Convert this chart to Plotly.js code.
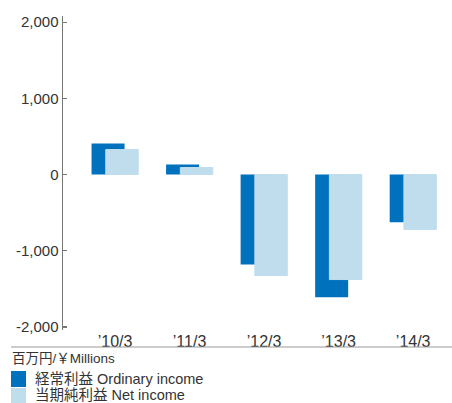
<!DOCTYPE html>
<html>
<head>
<meta charset="utf-8">
<script src="https://cdn.plot.ly/plotly-3.0.1.min.js"></script>
<style>html,body{margin:0;padding:0;background:#fff;}#chart{width:452px;height:403px;}</style>
</head>
<body>
<div id="chart"></div>
<script>
const categories = ["’10/3", "’11/3", "’12/3", "’13/3", "’14/3"];
const ordinaryIncome = [407, 131, -1181, -1610, -626];
const netIncome = [328, 92, -1325, -1378, -722];
const yTickValues = [-2000, -1000, 0, 1000, 2000];
const yTickLabels = ["-2,000", "-1,000", "0", "1,000", "2,000"];
const seriesNames = ["経常利益 Ordinary income", "当期純利益 Net income"];
const seriesColors = ["#0071BD", "#C0DDEE"];
const unitLabel = "百万円/￥Millions";

const xIdx = categories.map((_, i) => i);
const FONT = "Liberation Sans, Arial, 'Noto Sans CJK JP', sans-serif";

const W = 452, H = 403, M = {l: 63, r: 12, t: 16, b: 73};
const PW = W - M.l - M.r, PH = H - M.t - M.b;
const px = v => (v - M.l) / PW;          // pixel x -> paper x
const py = v => (H - M.b - v) / PH;      // pixel y -> paper y

const traces = [
  {type: 'bar', x: xIdx, y: ordinaryIncome, name: seriesNames[0],
   marker: {color: seriesColors[0], line: {width: 0}}, width: 0.443, offset: -0.315},
  {type: 'bar', x: xIdx, y: netIncome, name: seriesNames[1],
   marker: {color: seriesColors[1], line: {width: 1, color: seriesColors[1]}}, width: 0.435, offset: -0.124}
];

const legendRows = [{top: 371, bottom: 387, text: 379}, {top: 388, bottom: 403, text: 394.5}];
const shapes = [
  {type: 'line', xref: 'paper', yref: 'paper', x0: px(11), x1: px(452), y0: py(347), y1: py(347),
   line: {color: '#999', width: 1}}
];
const annotations = [
  {xref: 'paper', yref: 'paper', x: px(10), y: py(358), xanchor: 'left', yanchor: 'middle',
   text: unitLabel, showarrow: false, font: {size: 13.5, color: '#333', family: FONT}}
];
seriesNames.forEach((name, i) => {
  const r = legendRows[i];
  shapes.push({type: 'rect', xref: 'paper', yref: 'paper', x0: px(11), x1: px(26),
               y0: py(r.bottom), y1: py(r.top), fillcolor: seriesColors[i], line: {width: 0}});
  annotations.push({xref: 'paper', yref: 'paper', x: px(33), y: py(r.text), xanchor: 'left',
                    yanchor: 'middle', text: name, showarrow: false,
                    font: {size: 14.5, color: '#333', family: FONT}});
});

const layout = {
  width: W, height: H,
  margin: M,
  paper_bgcolor: '#fff', plot_bgcolor: '#fff',
  barmode: 'overlay',
  font: {family: FONT, color: '#333', size: 15},
  showlegend: false,
  xaxis: {range: [-0.698, 4.36], tickvals: xIdx, ticktext: categories,
          showline: false, showgrid: false, zeroline: false, ticks: '',
          tickfont: {size: 16, color: '#333'}, fixedrange: true, automargin: false},
  yaxis: {range: [-2040, 2080], tickvals: yTickValues, ticktext: yTickLabels,
          showline: true, linecolor: '#777', linewidth: 1.5,
          ticks: 'inside', ticklen: 4, tickwidth: 1.2, tickcolor: '#777',
          showgrid: false, zeroline: false, tickfont: {size: 15, color: '#333'},
          fixedrange: true, automargin: false},
  shapes: shapes,
  annotations: annotations
};

Plotly.newPlot('chart', traces, layout, {displayModeBar: false, staticPlot: true});
</script>
</body>
</html>
